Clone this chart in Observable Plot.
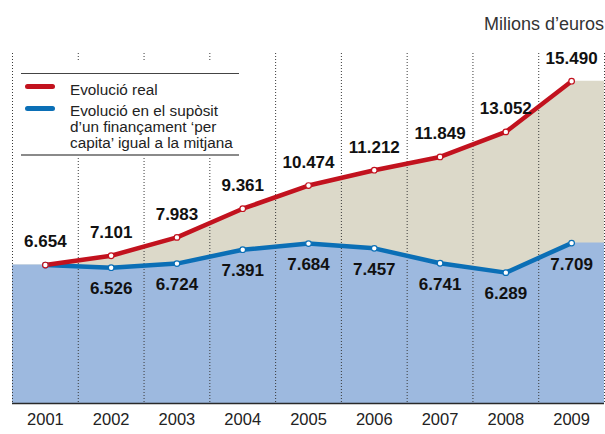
<!DOCTYPE html>
<html>
<head>
<meta charset="utf-8">
<script src="https://cdn.jsdelivr.net/npm/d3@7"></script>
<script src="https://cdn.jsdelivr.net/npm/@observablehq/plot@0.6"></script>
<style>
  html, body { margin: 0; padding: 0; background: #fff; }
  #wrap { position: relative; width: 605px; height: 434px; font-family: "Liberation Sans", Arial, sans-serif; overflow: hidden; }
  #title { position: absolute; right: 1px; top: 14.5px; font-size: 18px; line-height: 1; color: #333; white-space: nowrap; }
  #head { height: 35px; }
  #legendbg { position: absolute; left: 18px; top: 62px; width: 224px; height: 95px; background: #fff; }
  #legend { position: absolute; left: 21px; top: 73px; width: 218px; height: 80px; border-top: 1px solid #444; border-bottom: 2px solid #8a8a8a; }
  .sw { position: absolute; left: 25px; width: 30px; height: 5px; border-radius: 3px; }
  .lt { position: absolute; left: 70px; font-size: 15.3px; line-height: 16px; color: #222; white-space: nowrap; }
</style>
</head>
<body>
<div id="wrap">
  <div id="head"><div id="title">Milions d’euros</div></div>
  <div id="chart"></div>
  <div id="legendbg"></div>
  <div id="legend"></div>
  <div id="sw1" class="sw" style="top:84px;"></div>
  <div class="lt" style="top:82px;" id="lt1"></div>
  <div id="sw2" class="sw" style="top:106px;"></div>
  <div class="lt" style="top:102.7px;" id="lt2"></div>
</div>
<script>
const years = [2001, 2002, 2003, 2004, 2005, 2006, 2007, 2008, 2009];
const real = [6654, 7101, 7983, 9361, 10474, 11212, 11849, 13052, 15490];
const mitjana = [6654, 6526, 6724, 7391, 7684, 7457, 6741, 6289, 7709];
const seriesNames = ["Evolució real", "Evolució en el supòsit\nd’un finançament ‘per\ncapita’ igual a la mitjana"];
const colors = {red: "#c2121e", blue: "#0b6fb6", beige: "#dcd9c9", lightblue: "#9db9df"};

const rows = years.map((year, i) => ({year, real: real[i], mitjana: mitjana[i]}));
const ext = [
  {year: years[0] - 0.5, real: real[0], mitjana: mitjana[0]},
  ...rows,
  {year: years[years.length - 1] + 0.5, real: real[real.length - 1], mitjana: mitjana[mitjana.length - 1]}
];
const bounds = d3.range(years[0] - 0.5, years[years.length - 1] + 1, 1);
const fmt = d3.formatLocale({decimal: ",", thousands: ".", grouping: [3], currency: ["", "€"]}).format(",");

const chart = Plot.plot({
  width: 605,
  height: 399,
  marginTop: 18,
  marginBottom: 31,
  marginLeft: 12,
  marginRight: 1,
  style: {fontFamily: "'Liberation Sans', Arial, sans-serif", background: "transparent", overflow: "visible"},
  x: {domain: [years[0] - 0.5, years[years.length - 1] + 0.5], axis: null},
  y: {domain: [0, 16820], axis: null},
  marks: [
    Plot.areaY(ext, {x: "year", y1: 0, y2: "real", fill: colors.beige}),
    Plot.areaY(ext, {x: "year", y1: 0, y2: "mitjana", fill: colors.lightblue}),
    Plot.ruleX(bounds, {stroke: "#3a3a3a", strokeWidth: 1, strokeDasharray: "1,2"}),
    Plot.ruleY([0], {stroke: "#2a2a2a", strokeWidth: 1.5}),
    Plot.line(rows, {x: "year", y: "mitjana", stroke: colors.blue, strokeWidth: 4.5, strokeLinejoin: "round"}),
    Plot.line(rows, {x: "year", y: "real", stroke: colors.red, strokeWidth: 4.5, strokeLinejoin: "round"}),
    Plot.dot(rows, {x: "year", y: "mitjana", r: 2.8, fill: "white", stroke: colors.blue, strokeWidth: 1.2}),
    Plot.dot(rows, {x: "year", y: "real", r: 2.8, fill: "white", stroke: colors.red, strokeWidth: 1.2}),
    Plot.text(rows, {x: "year", y: "real", text: d => fmt(d.real), dy: -23, fontSize: 17, fontWeight: "bold", fill: "#111"}),
    Plot.text(rows.filter(d => d.mitjana !== d.real), {x: "year", y: "mitjana", text: d => fmt(d.mitjana), dy: 21, fontSize: 17, fontWeight: "bold", fill: "#111"}),
    Plot.axisX({ticks: years, tickSize: 0, tickPadding: 10, fontSize: 16.5, label: null, tickFormat: d => String(d), fill: "#222"})
  ]
});
document.getElementById("chart").appendChild(chart);

document.getElementById("sw1").style.background = colors.red;
document.getElementById("sw2").style.background = colors.blue;
document.getElementById("lt1").textContent = seriesNames[0];
document.getElementById("lt2").innerHTML = seriesNames[1].split("\n").join("<br>");
</script>
</body>
</html>
